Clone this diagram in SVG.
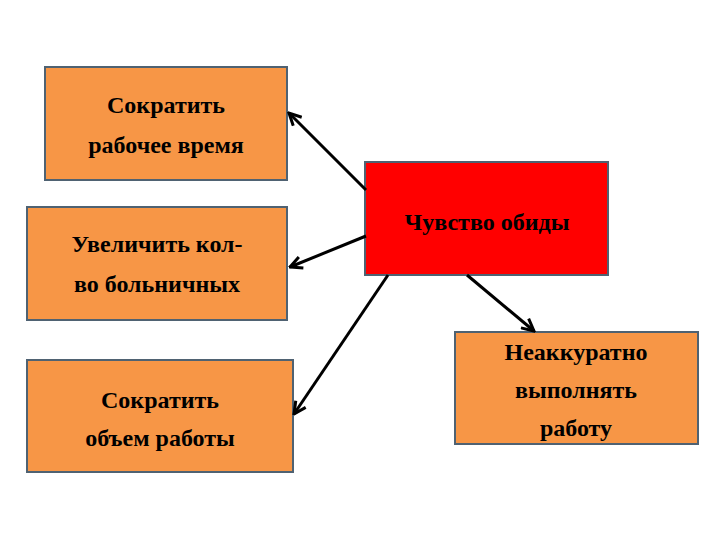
<svg xmlns="http://www.w3.org/2000/svg" width="720" height="540" viewBox="0 0 720 540">
<defs>
<style>
.b{fill:#F79646;stroke:#4F6272;stroke-width:2}
.t{font-family:"Liberation Serif",serif;font-weight:bold;font-size:24px;fill:#000;text-anchor:middle}
.c{stroke:#000;stroke-width:3;fill:none;marker-end:url(#a)}
</style>
<marker id="a" viewBox="0 0 10 10" refX="9" refY="5" markerWidth="5" markerHeight="5" orient="auto" markerUnits="strokeWidth">
<path d="M1,1 L9,5 L1,9" fill="none" stroke="#000" stroke-width="2"/>
</marker>
</defs>
<rect width="720" height="540" fill="#fff"/>
<g id="n1"><rect class="b" x="45" y="67" width="242" height="113"/><text class="t" x="166" y="113">Сократить</text><text class="t" x="166" y="153">рабочее время</text></g>
<g id="n2"><rect class="b" x="27" y="207" width="260" height="113"/><text class="t" x="157" y="252">Увеличить кол-</text><text class="t" x="157" y="292">во больничных</text></g>
<g id="n3"><rect class="b" x="27" y="360" width="266" height="112"/><text class="t" x="160" y="408">Сократить</text><text class="t" x="160" y="446">объем работы</text></g>
<g id="n4"><rect x="365" y="162" width="243" height="113" fill="#FF0000" stroke="#4F6272" stroke-width="2"/><text class="t" x="487" y="230">Чувство обиды</text></g>
<g id="n5"><rect class="b" x="455" y="332" width="243" height="112"/><text class="t" x="576" y="360">Неаккуратно</text><text class="t" x="576" y="398">выполнять</text><text class="t" x="576" y="436">работу</text></g>
<g id="connectors">
<line class="c" x1="366" y1="190" x2="289" y2="113"/>
<line class="c" x1="366" y1="236" x2="290" y2="267"/>
<line class="c" x1="388" y1="275" x2="294" y2="414"/>
<line class="c" x1="467" y1="275" x2="534" y2="331"/>
</g>
</svg>
